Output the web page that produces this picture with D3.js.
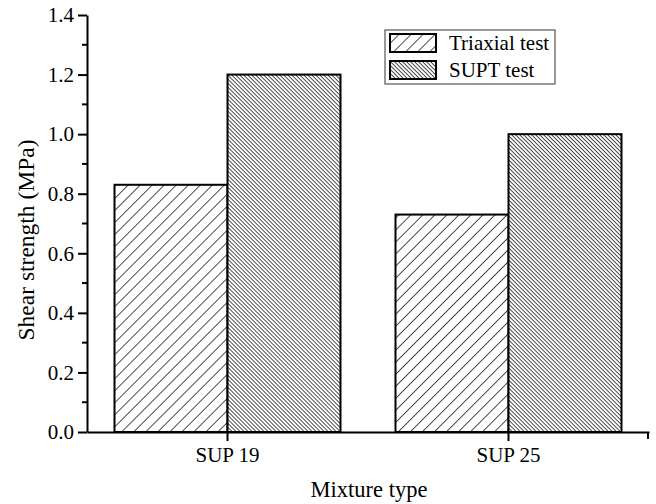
<!DOCTYPE html>
<html>
<head>
<meta charset="utf-8">
<script src="https://cdn.jsdelivr.net/npm/d3@7"></script>
<style>
  body { margin: 0; background: #fff; }
  text { font-family: "Liberation Serif", "Times New Roman", serif; fill: #000; }
</style>
</head>
<body>
<div id="chart"></div>
<script>
// data
var categories = ["SUP 19", "SUP 25"];
var seriesNames = ["Triaxial test", "SUPT test"];
var triaxial = [0.83, 0.73];
var supt = [1.20, 1.00];
var yTicks = [0.0, 0.2, 0.4, 0.6, 0.8, 1.0, 1.2, 1.4];

var svgWidth = 656;
var svgHeight = 504;

var svg = d3.select("#chart")
  .append("svg")
  .attr("width", svgWidth)
  .attr("height", svgHeight);

var defs = svg.append("defs");

// sparse forward hatch
var p1 = defs.append("pattern")
  .attr("id", "hatchA")
  .attr("patternUnits", "userSpaceOnUse")
  .attr("width", 8.5)
  .attr("height", 8.5)
  .attr("patternTransform", "rotate(45)");
p1.append("rect").attr("width", 8.5).attr("height", 8.5).attr("fill", "#fff");
p1.append("line")
  .attr("x1", 0).attr("y1", 0).attr("x2", 0).attr("y2", 8.5)
  .attr("stroke", "#000").attr("stroke-width", 1.4);

// dense back hatch
var p2 = defs.append("pattern")
  .attr("id", "hatchB")
  .attr("patternUnits", "userSpaceOnUse")
  .attr("width", 2.83)
  .attr("height", 2.83)
  .attr("patternTransform", "rotate(-45)");
p2.append("rect").attr("width", 2.83).attr("height", 2.83).attr("fill", "#fff");
p2.append("line")
  .attr("x1", 0).attr("y1", 0).attr("x2", 0).attr("y2", 2.83)
  .attr("stroke", "#000").attr("stroke-width", 1.4);

var fills = ["url(#hatchA)", "url(#hatchB)"];

var plot = { left: 87, right: 649, top: 15, bottom: 432 };

var x = d3.scaleBand()
  .domain(categories)
  .range([plot.left, plot.right])
  .padding(0);

var y = d3.scaleLinear()
  .domain([0, 1.4])
  .range([plot.bottom, plot.top]);

var barW = 113;

var rows = categories.map(function(c, i) {
  return { cat: c, vals: [triaxial[i], supt[i]] };
});

// bars
var g = svg.append("g");
rows.forEach(function(r) {
  var cx = x(r.cat) + x.bandwidth() / 2;
  r.vals.forEach(function(v, j) {
    g.append("rect")
      .attr("x", j === 0 ? cx - barW : cx)
      .attr("y", y(v))
      .attr("width", barW)
      .attr("height", y(0) - y(v))
      .attr("fill", fills[j])
      .attr("stroke", "#000")
      .attr("stroke-width", 2);
  });
});

// y axis
var yAxis = d3.axisLeft(y)
  .tickValues(yTicks)
  .tickFormat(d3.format(".1f"))
  .tickSizeInner(9)
  .tickSizeOuter(0)
  .tickPadding(4);

var yg = svg.append("g")
  .attr("transform", "translate(" + plot.left + ",0)")
  .call(yAxis);

// minor ticks
var minor = d3.range(0.1, 1.4, 0.2);
yg.selectAll(".minor")
  .data(minor)
  .enter()
  .append("line")
  .attr("class", "minor")
  .attr("x1", 0).attr("x2", -5)
  .attr("y1", function(d) { return y(d); })
  .attr("y2", function(d) { return y(d); })
  .attr("stroke", "#000")
  .attr("stroke-width", 2);

// x axis
var xAxis = d3.axisBottom(x)
  .tickSizeInner(9)
  .tickSizeOuter(0)
  .tickPadding(6);

var xg = svg.append("g")
  .attr("transform", "translate(0," + plot.bottom + ")")
  .call(xAxis);

xg.append("line")
  .attr("x1", plot.right - 1).attr("x2", plot.right - 1)
  .attr("y1", 0).attr("y2", 7)
  .attr("stroke", "#000").attr("stroke-width", 2);

[yg, xg].forEach(function(a) {
  a.attr("font-family", null);
  a.select(".domain").attr("stroke-width", 2);
  a.selectAll(".tick line").attr("stroke-width", 2);
  a.selectAll(".tick text")
    .style("font-family", "'Liberation Serif', 'Times New Roman', serif")
    .attr("font-size", 21)
    .attr("fill", "#000");
});

// axis titles
svg.append("text")
  .attr("transform", "translate(34,240) rotate(-90)")
  .attr("text-anchor", "middle")
  .attr("font-size", 23.5)
  .text("Shear strength (MPa)");

svg.append("text")
  .attr("x", 369)
  .attr("y", 497)
  .attr("text-anchor", "middle")
  .attr("font-size", 22.5)
  .text("Mixture type");

// legend
var lg = svg.append("g");
lg.append("rect")
  .attr("x", 385).attr("y", 30)
  .attr("width", 170).attr("height", 54)
  .attr("fill", "#fff")
  .attr("stroke", "#555")
  .attr("stroke-width", 1.2);

seriesNames.forEach(function(name, j) {
  var yy = 34 + j * 27;
  lg.append("rect")
    .attr("x", 390).attr("y", yy)
    .attr("width", 46).attr("height", 18)
    .attr("fill", fills[j])
    .attr("stroke", "#000")
    .attr("stroke-width", 2);
  lg.append("text")
    .attr("x", 449)
    .attr("y", yy + 16)
    .attr("font-size", 21)
    .text(name);
});
</script>
</body>
</html>
